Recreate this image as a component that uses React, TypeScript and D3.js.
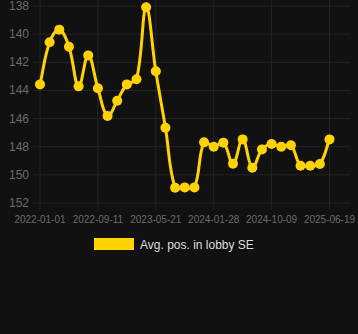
import React from "react";
import * as d3 from "d3";

const categories: string[] = [
  "2022-01-01", "2022-02-12", "2022-03-26", "2022-05-08", "2022-06-19", "2022-07-31",
  "2022-09-11", "2022-10-23", "2022-12-04", "2023-01-15", "2023-02-26", "2023-04-09",
  "2023-05-21", "2023-07-02", "2023-08-13", "2023-09-24", "2023-11-05", "2023-12-17",
  "2024-01-28", "2024-03-10", "2024-04-22", "2024-06-03", "2024-07-15", "2024-08-27",
  "2024-10-09", "2024-11-20", "2025-01-01", "2025-02-12", "2025-03-27", "2025-05-08",
  "2025-06-19",
];

const values: number[] = [
  143.57, 140.58, 139.68, 140.89, 143.71, 141.51, 143.85, 145.82, 144.73, 143.57,
  143.21, 138.09, 142.64, 146.65, 150.91, 150.89, 150.89, 147.69, 148.0, 147.71,
  149.21, 147.48, 149.49, 148.19, 147.81, 148.0, 147.9, 149.35, 149.35, 149.23,
  147.48,
];

const yTicks: number[] = [138, 140, 142, 144, 146, 148, 150, 152];
const xTickLabels: string[] = ["2022-01-01", "2022-09-11", "2023-05-21", "2024-01-28", "2024-10-09", "2025-06-19"];
const seriesName = "Avg. pos. in lobby SE";

const W = 358;
const H = 334;

// Chart.js-style spline (tension 0.4)
function splinePath(pts: [number, number][], t = 0.4): string {
  if (pts.length < 2) return "";
  const path = d3.path();
  path.moveTo(pts[0][0], pts[0][1]);
  const ctrl = pts.map((p, i) => {
    const prev = pts[Math.max(0, i - 1)];
    const next = pts[Math.min(pts.length - 1, i + 1)];
    const d01 = Math.hypot(p[0] - prev[0], p[1] - prev[1]);
    const d12 = Math.hypot(next[0] - p[0], next[1] - p[1]);
    let s01 = d01 / (d01 + d12);
    let s12 = d12 / (d01 + d12);
    if (!isFinite(s01)) s01 = 0;
    if (!isFinite(s12)) s12 = 0;
    const fa = t * s01;
    const fb = t * s12;
    return {
      prev: [p[0] - fa * (next[0] - prev[0]), p[1] - fa * (next[1] - prev[1])],
      next: [p[0] + fb * (next[0] - prev[0]), p[1] + fb * (next[1] - prev[1])],
    };
  });
  for (let i = 1; i < pts.length; i++) {
    const c1 = ctrl[i - 1].next;
    const c2 = ctrl[i].prev;
    path.bezierCurveTo(c1[0], c1[1], c2[0], c2[1], pts[i][0], pts[i][1]);
  }
  return path.toString();
}

export default function App() {
  const x = d3.scalePoint<string>().domain(categories).range([40, 329.5]);
  const y = d3.scaleLinear().domain([138, 152]).range([6, 203]);
  const pts: [number, number][] = values.map((v, i) => [x(categories[i]) as number, y(v)]);

  const gridX = xTickLabels.map((c) => x(c) as number);
  const font = "Arial, 'Liberation Sans', sans-serif";

  return (
    <svg
      width={W}
      height={H}
      style={{ position: "absolute", left: 0, top: 0, background: "#111111", display: "block" }}
    >
      <rect x={0} y={0} width={W} height={H} fill="#111111" />
      {yTicks.map((t) => (
        <g key={"y" + t}>
          <line x1={33} x2={350} y1={y(t)} y2={y(t)} stroke="#242424" strokeWidth={1} />
          <text
            x={29}
            y={y(t)}
            textAnchor="end"
            dominantBaseline="central"
            fill="#6b6b6b"
            fontSize={12}
            fontFamily={font}
          >
            {t}
          </text>
        </g>
      ))}
      {gridX.map((gx, i) => (
        <g key={"x" + i}>
          <line x1={gx} x2={gx} y1={0} y2={210} stroke="#242424" strokeWidth={1} />
          <text
            x={gx}
            y={223}
            textAnchor="middle"
            fill="#6b6b6b"
            fontSize={10}
            fontFamily={font}
          >
            {xTickLabels[i]}
          </text>
        </g>
      ))}
      <path d={splinePath(pts)} fill="none" stroke="#FFD200" strokeWidth={3} />
      {pts.map((p, i) => (
        <circle key={i} cx={p[0]} cy={p[1]} r={5} fill="#FFD200" />
      ))}
      <rect x={94} y={238} width={40} height={12} fill="#FFD200" />
      <text x={140} y={248.5} fill="#dddddd" fontSize={12} fontFamily={font}>
        {seriesName}
      </text>
    </svg>
  );
}
